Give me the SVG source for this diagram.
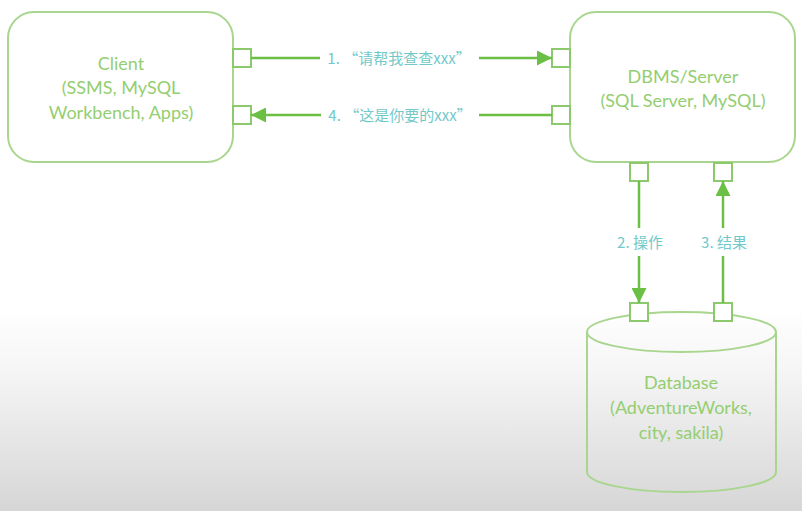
<svg xmlns="http://www.w3.org/2000/svg" width="802" height="511" viewBox="0 0 802 511">
<defs>
<linearGradient id="bg" x1="0" y1="0" x2="0" y2="1">
<stop offset="0" stop-color="#ffffff"/>
<stop offset="0.6" stop-color="#ffffff"/>
<stop offset="0.72" stop-color="#f6f6f6"/>
<stop offset="1" stop-color="#d6d6d6"/>
</linearGradient>
<marker id="ah" viewBox="0 0 10 10" refX="10" refY="5" markerWidth="6" markerHeight="6" orient="auto" markerUnits="strokeWidth">
<path d="M0,0 L10,5 L0,10 Z" fill="#6cbf45"/>
</marker>
</defs>
<style>
.box{fill:none;stroke:#a9d68e;stroke-width:2}
.port{fill:#ffffff;stroke:#8cc96c;stroke-width:2}
.ntxt{font-family:Lato,"Noto Sans",sans-serif;font-size:18px;fill:#94ce70;text-anchor:middle}
.ltxt{font-family:"Noto Sans CJK SC",sans-serif;font-size:15px;fill:#72c9c9;text-anchor:middle}
.conn{fill:none;stroke:#6cbf45;stroke-width:2.5}
</style>
<rect x="0" y="0" width="802" height="511" fill="url(#bg)"/>
<g id="client">
<rect class="box" x="8" y="12" width="225" height="150" rx="26"/>
<text class="ntxt" x="121" y="70">Client</text>
<text class="ntxt" x="121" y="94">(SSMS, MySQL</text>
<text class="ntxt" x="121" y="119">Workbench, Apps)</text>
<rect class="port" x="233" y="49" width="18" height="18"/>
<rect class="port" x="233" y="106" width="18" height="18"/>
</g>
<g id="server">
<rect class="box" x="570" y="12" width="225" height="150" rx="26"/>
<text class="ntxt" x="683" y="83">DBMS/Server</text>
<text class="ntxt" x="683" y="107">(SQL Server, MySQL)</text>
<rect class="port" x="552" y="49" width="18" height="18"/>
<rect class="port" x="552" y="106" width="18" height="18"/>
<rect class="port" x="630" y="163" width="18" height="18"/>
<rect class="port" x="714" y="163" width="18" height="18"/>
</g>
<g id="database">
<path class="box" d="M587,332 L587,472 A94.5,20 0 0 0 776,472 L776,332"/>
<ellipse class="box" cx="681.5" cy="332" rx="94.5" ry="20"/>
<text class="ntxt" x="681" y="389">Database</text>
<text class="ntxt" x="681" y="414">(AdventureWorks,</text>
<text class="ntxt" x="681" y="439">city, sakila)</text>
<rect class="port" x="630" y="303" width="18" height="18"/>
<rect class="port" x="714" y="303" width="18" height="18"/>
</g>
<g id="connectors">
<path class="conn" d="M251,58 L320,58"/>
<path class="conn" d="M479,58 L552,58" marker-end="url(#ah)"/>
<text class="ltxt" x="399" y="64">1. “请帮我查查xxx”</text>
<path class="conn" d="M552,115 L479,115"/>
<path class="conn" d="M321,115 L251,115" marker-end="url(#ah)"/>
<text class="ltxt" x="400" y="121">4. “这是你要的xxx”</text>
<path class="conn" d="M639,181 L639,228"/>
<path class="conn" d="M639,256 L639,303" marker-end="url(#ah)"/>
<text class="ltxt" x="640" y="248">2. 操作</text>
<path class="conn" d="M723,303 L723,256"/>
<path class="conn" d="M723,228 L723,181" marker-end="url(#ah)"/>
<text class="ltxt" x="724" y="248">3. 结果</text>
</g>
</svg>
